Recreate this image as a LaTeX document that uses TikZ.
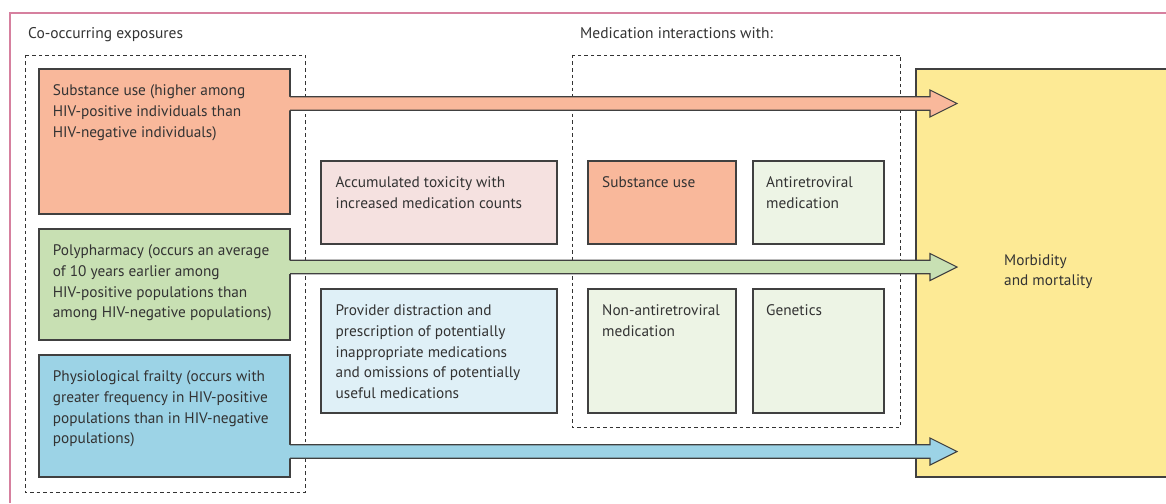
\documentclass[tikz,border=0pt]{standalone}
\usepackage{fontspec}
\setmainfont{PT Sans}
\usetikzlibrary{calc}
\definecolor{salmon}{HTML}{F9B89B}
\definecolor{pgreen}{HTML}{C8E0B3}
\definecolor{pblue}{HTML}{9CD3E6}
\definecolor{pyellow}{HTML}{FDEA95}
\definecolor{lpink}{HTML}{F5E1E0}
\definecolor{lblue}{HTML}{DFF0F7}
\definecolor{lgreen}{HTML}{EDF4E5}
\definecolor{framepink}{HTML}{D6809F}
\definecolor{txtc}{HTML}{333333}
\definecolor{edgec}{HTML}{404040}
\newcommand\fatarrow[3]{%
  \fill[#3] let \p1=(#1), \p2=(#2) in
    (\x1-0.8pt,\y1+6.75pt) -- (\x2-27pt,\y1+6.75pt) -- (\x2-27pt,\y1+13.5pt) -- (\x2,\y1)
    -- (\x2-27pt,\y1-13.5pt) -- (\x2-27pt,\y1-6.75pt) -- (\x1-0.8pt,\y1-6.75pt) -- cycle;
  \draw[edgec,line width=1.1pt,line join=miter] let \p1=(#1), \p2=(#2) in
    (\x1,\y1+6.75pt) -- (\x2-27pt,\y1+6.75pt) -- (\x2-27pt,\y1+13.5pt) -- (\x2,\y1)
    -- (\x2-27pt,\y1-13.5pt) -- (\x2-27pt,\y1-6.75pt) -- (\x1,\y1-6.75pt);
}
\begin{document}
\begin{tikzpicture}[x=1pt,y=-1pt,
  box/.style={draw=edgec,line width=1.1pt,rectangle,inner sep=0pt,outer sep=0pt,anchor=north west},
  txt/.style={anchor=north west,inner sep=0pt,align=left,text=txtc,font=\fontsize{15.3}{20.7}\selectfont},
  dbox/.style={draw=black!80,line width=0.9pt,dash pattern=on 3.5pt off 3pt},
  title/.style={anchor=base west,inner sep=0pt,text=txtc,font=\fontsize{15.5}{20.7}\selectfont}]
\useasboundingbox (0,0) rectangle (1166,503);
\fill[white] (0,0) rectangle (1166,503);
% frame
\draw[framepink,line width=1.2pt] (10,503) -- (10,13) -- (1166,13);
% titles
\node[title] (t1) at (28,39) {Co-occurring exposures};
\node[title] (t2) at (580,39) {Medication interactions with:};
% dashed groups
\draw[dbox] (25,55) rectangle (305,492);
\draw[dbox] (572,55) rectangle (900,427);
% yellow outcome box
\node[box,fill=pyellow,minimum width=270pt,minimum height=408pt] (morb) at (916,69) {};
\node[txt] (morbt) at ([xshift=88pt,yshift=-181.5pt]morb.north west) {\strut Morbidity\\and mortality};
% left boxes
\node[box,fill=salmon,minimum width=251pt,minimum height=145pt] (sub) at (39,69) {};
\node[box,fill=pgreen,minimum width=251pt,minimum height=111pt] (poly) at (39,229) {};
\node[box,fill=pblue,minimum width=251pt,minimum height=122pt] (frail) at (39,355) {};
\node[txt] (subt) at ([xshift=13.7pt,yshift=-12.2pt]sub.north west) {\strut Substance use (higher among\\HIV-positive individuals than\\HIV-negative individuals)};
\node[txt] (polyt) at ([xshift=13.7pt,yshift=-12.2pt]poly.north west) {\strut Polypharmacy (occurs an average\\of 10 years earlier among\\HIV-positive populations than\\among HIV-negative populations)};
\node[txt] (frailt) at ([xshift=13.7pt,yshift=-12.2pt]frail.north west) {\strut Physiological frailty (occurs with\\greater frequency in HIV-positive\\populations than in HIV-negative\\populations)};
% middle boxes
\node[box,fill=lpink,minimum width=236pt,minimum height=83pt] (tox) at (321,161) {};
\node[box,fill=lblue,minimum width=236pt,minimum height=124pt] (prov) at (321,289) {};
\node[txt] (toxt) at ([xshift=14.5pt,yshift=-12.2pt]tox.north west) {\strut Accumulated toxicity with\\increased medication counts};
\node[txt] (provt) at ([xshift=14.5pt,yshift=-12.2pt]prov.north west) {\strut Provider distraction and\\prescription of potentially\\inappropriate medications\\and omissions of potentially\\useful medications};
% interaction boxes
\node[box,fill=salmon,minimum width=148pt,minimum height=83pt] (msub) at (588,161) {};
\node[box,fill=lgreen,minimum width=131pt,minimum height=83pt] (arv) at (753,161) {};
\node[box,fill=lgreen,minimum width=148pt,minimum height=124pt] (nonarv) at (588,289) {};
\node[box,fill=lgreen,minimum width=131pt,minimum height=124pt] (gen) at (753,289) {};
\node[txt] (msubt) at ([xshift=14pt,yshift=-12.2pt]msub.north west) {\strut Substance use};
\node[txt] (arvt) at ([xshift=13pt,yshift=-12.2pt]arv.north west) {\strut Antiretroviral\\medication};
\node[txt] (nonarvt) at ([xshift=14pt,yshift=-12.2pt]nonarv.north west) {\strut Non-antiretroviral\\medication};
\node[txt] (gent) at ([xshift=13pt,yshift=-12.2pt]gen.north west) {\strut Genetics};
% arrows
\coordinate (tipx) at ([xshift=41pt]morb.west);
\coordinate (a1s) at ([yshift=38pt]sub.east);
\coordinate (a2s) at ([yshift=17.5pt]poly.east);
\coordinate (a3s) at ([yshift=-35.5pt]frail.east);
\coordinate (a1t) at (a1s -| tipx);
\coordinate (a2t) at (a2s -| tipx);
\coordinate (a3t) at (a3s -| tipx);
\fatarrow{a1s}{a1t}{salmon}
\fatarrow{a2s}{a2t}{pgreen}
\fatarrow{a3s}{a3t}{pblue}
\end{tikzpicture}
\end{document}
